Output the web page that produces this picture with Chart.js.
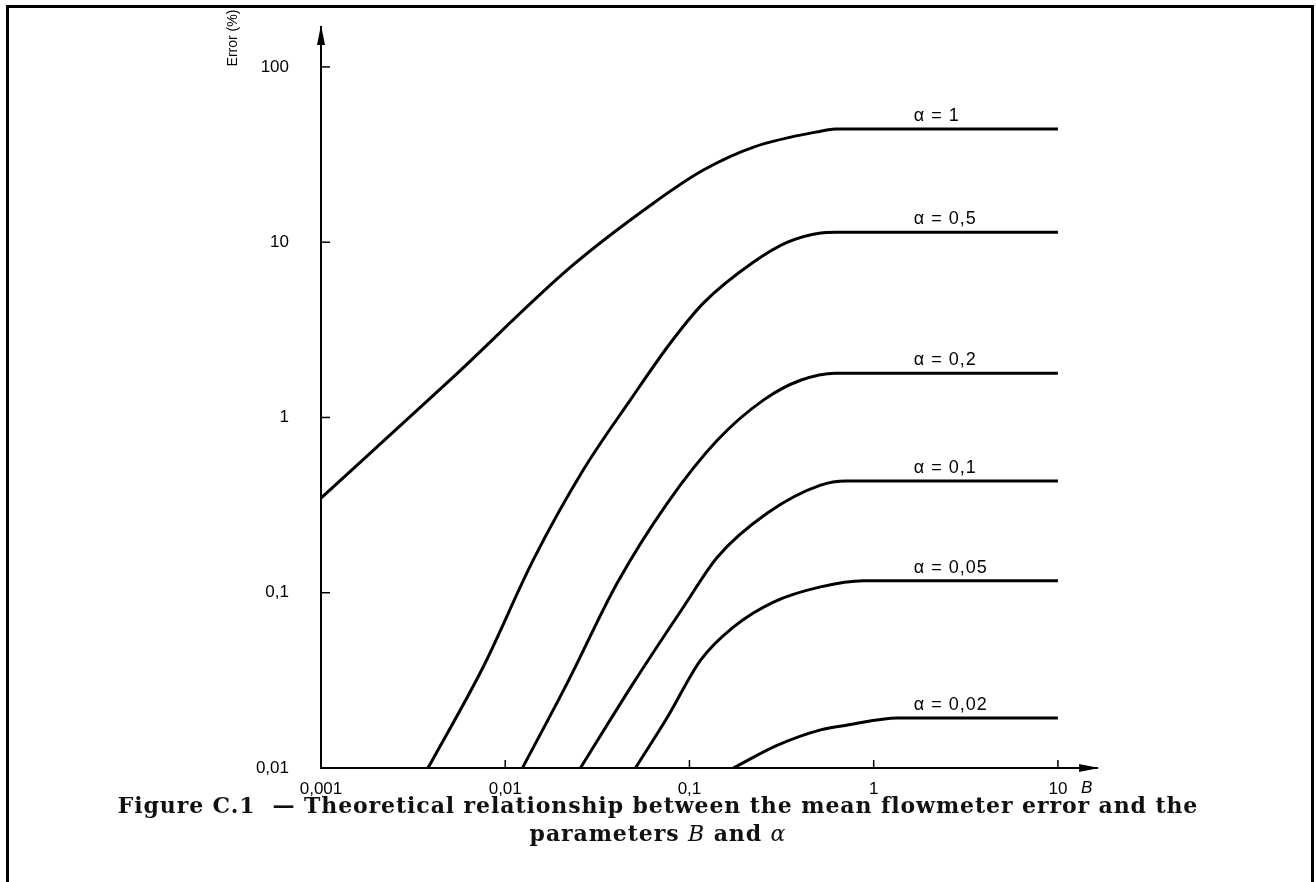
<!DOCTYPE html>
<html>
<head>
<meta charset="utf-8">
<script src="https://cdn.jsdelivr.net/npm/chart.js@4.4.1/dist/chart.umd.min.js"></script>
<style>
    body { margin: 0; background: #fff; width: 1316px; height: 882px; overflow: hidden; position: relative; }
    #frame { position: absolute; left: 6px; top: 5px; width: 1302px; height: 900px; border: 3px solid #000; border-bottom: none; }
    #chart { position: absolute; left: 0; top: 0; }
    .caption { position: absolute; left: 0; width: 1316px; text-align: center; font-family: "DejaVu Serif", serif; font-weight: bold; font-size: 22px; letter-spacing: 0.9px; color: #111; }
    .caption i { font-weight: normal; }
</style>
</head>
<body>
<div id="frame"></div>
<canvas id="chart" width="1316" height="882"></canvas>
<div class="caption" style="top: 792px;">Figure C.1 &nbsp;— Theoretical relationship between the mean flowmeter error and the</div>
<div class="caption" style="top: 820px;">parameters <i>B</i> and <i>α</i></div>

<script>
// values (B on x, error % on y, both log)
const xTickValues = [0.001, 0.01, 0.1, 1, 10];
const xTickLabels = ['0,001', '0,01', '0,1', '1', '10'];
const yTickValues = [0.01, 0.1, 1, 10, 100];
const yTickLabels = ['0,01', '0,1', '1', '10', '100'];

const curveLabels = ['α = 1', 'α = 0,5', 'α = 0,2', 'α = 0,1', 'α = 0,05', 'α = 0,02'];

const b_a1 = [0.001, 0.00522, 0.0226, 0.0637, 0.119, 0.223, 0.515, 0.62, 10];
const e_a1 = [0.347, 1.70, 7.21, 16.7, 25.8, 34.9, 43.0, 44.2, 44.2];

const b_a05 = [0.00381, 0.00759, 0.0142, 0.0265, 0.0478, 0.0788, 0.119, 0.223, 0.341, 0.515, 0.62, 10];
const e_a05 = [0.01, 0.0377, 0.154, 0.501, 1.26, 2.66, 4.49, 7.70, 10.0, 11.3, 11.4, 11.4];

const b_a02 = [0.0124, 0.0217, 0.0406, 0.0759, 0.142, 0.253, 0.401, 0.621, 10];
const e_a02 = [0.01, 0.0305, 0.114, 0.325, 0.743, 1.26, 1.63, 1.79, 1.79];

const b_a01 = [0.0256, 0.0496, 0.0928, 0.142, 0.265, 0.515, 0.705, 10];
const e_a01 = [0.01, 0.0305, 0.0829, 0.160, 0.285, 0.411, 0.434, 0.434];

const b_a005 = [0.0509, 0.0759, 0.115, 0.173, 0.286, 0.515, 0.883, 10];
const e_a005 = [0.01, 0.0195, 0.0413, 0.0637, 0.0885, 0.108, 0.117, 0.117];

const b_a002 = [0.173, 0.301, 0.515, 0.722, 1.35, 10];
const e_a002 = [0.01, 0.0135, 0.0165, 0.0176, 0.0193, 0.0193];

const curveB = [b_a1, b_a05, b_a02, b_a01, b_a005, b_a002];
const curveE = [e_a1, e_a05, e_a02, e_a01, e_a005, e_a002];

// B value where the alpha labels start, above the flat part
const labelB = 1.65;

const sansFont = '"Liberation Sans", Arial, sans-serif';

function toPoints(bs, es) {
    return bs.map((b, i) => ({ x: b, y: es[i] }));
}

const datasets = curveLabels.map((label, i) => ({
    label: label,
    data: toPoints(curveB[i], curveE[i]),
    borderColor: '#000',
    borderWidth: 3,
    pointRadius: 0,
    fill: false,
    cubicInterpolationMode: 'monotone'
}));

// ticks pointing inward, arrows, axis names and curve labels
const decorPlugin = {
    id: 'decor',
    afterDraw(chart) {
        const ctx = chart.ctx;
        const xs = chart.scales.x;
        const ys = chart.scales.y;
        const left = xs.left;
        const bottom = ys.bottom;

        ctx.save();
        ctx.strokeStyle = '#000';
        ctx.fillStyle = '#000';
        ctx.lineWidth = 1.5;

        yTickValues.slice(1).forEach(v => {
            const py = ys.getPixelForValue(v);
            ctx.beginPath();
            ctx.moveTo(left, py);
            ctx.lineTo(left + 9, py);
            ctx.stroke();
        });
        xTickValues.slice(1).forEach(v => {
            const px = xs.getPixelForValue(v);
            ctx.beginPath();
            ctx.moveTo(px, bottom);
            ctx.lineTo(px, bottom - 8);
            ctx.stroke();
        });

        // arrow heads
        ctx.beginPath();
        ctx.moveTo(left, ys.top - 2);
        ctx.lineTo(left - 4, ys.top + 18);
        ctx.lineTo(left + 4, ys.top + 18);
        ctx.closePath();
        ctx.fill();

        ctx.beginPath();
        ctx.moveTo(xs.right + 2, bottom);
        ctx.lineTo(xs.right - 18, bottom - 4);
        ctx.lineTo(xs.right - 18, bottom + 4);
        ctx.closePath();
        ctx.fill();

        // axis names
        ctx.font = 'italic 17px ' + sansFont;
        ctx.textAlign = 'left';
        ctx.textBaseline = 'middle';
        ctx.fillText('B', xs.right - 16, bottom + 20);

        ctx.save();
        ctx.translate(233, 38);
        ctx.rotate(-Math.PI / 2);
        ctx.font = '14px ' + sansFont;
        ctx.textAlign = 'center';
        ctx.textBaseline = 'middle';
        ctx.fillText('Error (%)', 0, 0);
        ctx.restore();

        // curve labels over the plateau
        ctx.font = '18px ' + sansFont;
        ctx.letterSpacing = '1px';
        ctx.textAlign = 'left';
        ctx.textBaseline = 'middle';
        const lx = xs.getPixelForValue(labelB);
        curveLabels.forEach((label, i) => {
            const es = curveE[i];
            const py = ys.getPixelForValue(es[es.length - 1]);
            ctx.fillText(label, lx, py - 13);
        });
        ctx.restore();
    }
};

new Chart(document.getElementById('chart'), {
    type: 'line',
    data: { datasets: datasets },
    options: {
        responsive: false,
        animation: false,
        devicePixelRatio: 1,
        layout: { padding: { left: 241, top: 27, right: 219, bottom: 74 } },
        plugins: {
            legend: { display: false },
            tooltip: { enabled: false }
        },
        scales: {
            x: {
                type: 'logarithmic',
                min: 0.001,
                max: 16.3,
                afterFit: s => { s.height = 40; s.paddingLeft = 0; s.paddingRight = 0; },
                afterBuildTicks: s => { s.ticks = xTickValues.map(v => ({ value: v })); },
                grid: { display: false, drawTicks: false },
                border: { display: true, color: '#000', width: 2 },
                ticks: {
                    color: '#000',
                    padding: 11,
                    maxRotation: 0,
                    autoSkip: false,
                    font: { family: sansFont, size: 17 },
                    callback: (v, i) => xTickLabels[i]
                }
            },
            y: {
                type: 'logarithmic',
                min: 0.01,
                max: 169,
                afterFit: s => { s.width = 80; s.paddingTop = 0; s.paddingBottom = 0; },
                afterBuildTicks: s => { s.ticks = yTickValues.map(v => ({ value: v })); },
                grid: { display: false, drawTicks: false },
                border: { display: true, color: '#000', width: 2 },
                ticks: {
                    color: '#000',
                    padding: 32,
                    autoSkip: false,
                    font: { family: sansFont, size: 17 },
                    callback: (v, i) => yTickLabels[i]
                }
            }
        }
    },
    plugins: [decorPlugin]
});
</script>
</body>
</html>
